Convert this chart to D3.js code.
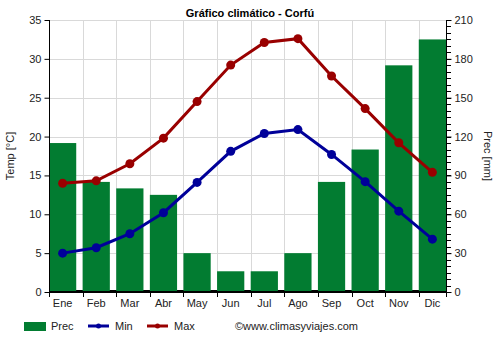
<!DOCTYPE html>
<html>
<head>
<meta charset="utf-8">
<script src="https://cdn.jsdelivr.net/npm/d3@7"></script>
<style>
  body { margin: 0; background: #fff; }
  svg { display: block; font-family: "Liberation Sans", Arial, sans-serif; }
</style>
</head>
<body>
<svg id="chart" width="500" height="350"></svg>
<script>
// Monthly climate data for Corfu
const months = ["Ene", "Feb", "Mar", "Abr", "May", "Jun", "Jul", "Ago", "Sep", "Oct", "Nov", "Dic"];
const precip = [115, 85, 80, 75, 30, 16, 16, 30, 85, 110, 175, 195];
const tempMin = [5.0, 5.7, 7.5, 10.2, 14.1, 18.1, 20.4, 20.9, 17.7, 14.2, 10.4, 6.8];
const tempMax = [14.0, 14.3, 16.5, 19.8, 24.5, 29.2, 32.1, 32.6, 27.8, 23.6, 19.2, 15.4];
const tempTicks = [0, 5, 10, 15, 20, 25, 30, 35];
const precTicks = [0, 30, 60, 90, 120, 150, 180, 210];

const svg = d3.select("#chart");
const plotL = 49, plotR = 446, plotT = 20, plotB = 292;

// first bar touches the left axis, last bar touches the right axis
const x = d3.scaleBand().domain(months).range([plotL, plotR])
  .paddingInner(0.19).paddingOuter(0);
const yT = d3.scaleLinear().domain([0, 35]).range([plotB, plotT]);
const yP = d3.scaleLinear().domain([0, 210]).range([plotB, plotT]);

const grid = "#d9d9d9";
const slotStarts = months.map(m => Math.round(x(m)) + 0.5);

// horizontal grid
svg.append("g").selectAll("line").data(tempTicks.slice(1)).join("line")
  .attr("x1", plotL).attr("x2", plotR)
  .attr("y1", d => Math.round(yT(d)) + 0.5).attr("y2", d => Math.round(yT(d)) + 0.5)
  .attr("stroke", grid).attr("stroke-width", 1);

// vertical grid at the start of each month slot
svg.append("g").selectAll("line").data(slotStarts.slice(1)).join("line")
  .attr("x1", d => d).attr("x2", d => d)
  .attr("y1", plotT).attr("y2", plotB)
  .attr("stroke", grid).attr("stroke-width", 1);

// baseline
svg.append("line").attr("x1", plotL).attr("x2", plotR)
  .attr("y1", plotB - 0.5).attr("y2", plotB - 0.5)
  .attr("stroke", "#000").attr("stroke-width", 3);

// precipitation bars
svg.append("g").selectAll("rect").data(precip).join("rect")
  .attr("x", (d, i) => x(months[i]))
  .attr("width", x.bandwidth())
  .attr("y", d => yP(d))
  .attr("height", d => yP(0) - yP(d) - 1)
  .attr("fill", "#027c31");

// left axis
const axL = svg.append("g").attr("transform", `translate(${plotL + 0.5},0)`)
  .call(d3.axisLeft(yT).tickValues(tempTicks).tickSize(5).tickPadding(3));
// right axis
const axR = svg.append("g").attr("transform", `translate(${plotR + 0.5},0)`)
  .call(d3.axisRight(yP).tickValues(precTicks).tickSize(5).tickPadding(3));
// right minor ticks
svg.append("g").selectAll("line").data(d3.range(0, 211, 5)).join("line")
  .attr("x1", plotR).attr("x2", plotR + 5)
  .attr("y1", d => Math.round(yP(d)) + 0.5).attr("y2", d => Math.round(yP(d)) + 0.5)
  .attr("stroke", "#000");
// bottom axis: ticks at slot starts and the right end, labels centred under bars
svg.append("g").selectAll("line").data(slotStarts.concat([plotR + 0.5])).join("line")
  .attr("x1", d => d).attr("x2", d => d)
  .attr("y1", plotB).attr("y2", plotB + 5)
  .attr("stroke", "#000");
svg.append("g").selectAll("text").data(months).join("text")
  .attr("x", d => x(d) + x.bandwidth() / 2)
  .attr("y", 307)
  .attr("text-anchor", "middle")
  .attr("font-size", 11)
  .attr("fill", "#222")
  .text(d => d);

[axL, axR].forEach(a => {
  a.select(".domain").remove();
  a.selectAll("text").attr("font-size", 11).attr("fill", "#222").attr("font-family", "Liberation Sans, Arial, sans-serif");
  a.selectAll(".tick line").attr("stroke", "#000");
});
svg.append("line").attr("x1", plotL + 0.5).attr("x2", plotL + 0.5).attr("y1", plotT).attr("y2", plotB).attr("stroke", "#000");
svg.append("line").attr("x1", plotR + 0.5).attr("x2", plotR + 0.5).attr("y1", plotT).attr("y2", plotB).attr("stroke", "#000");

// temperature lines
const cx = i => x(months[i]) + x.bandwidth() / 2;
function series(vals, color) {
  const line = d3.line().x((d, i) => cx(i)).y(d => yT(d));
  svg.append("path").datum(vals).attr("d", line)
    .attr("fill", "none").attr("stroke", color).attr("stroke-width", 3);
  svg.append("g").selectAll("circle").data(vals).join("circle")
    .attr("cx", (d, i) => cx(i)).attr("cy", d => yT(d)).attr("r", 4.5)
    .attr("fill", color);
}
series(tempMin, "#000099");
series(tempMax, "#990000");

// title
svg.append("text").attr("x", 250).attr("y", 17).attr("text-anchor", "middle")
  .attr("font-size", 11).attr("font-weight", "bold").attr("fill", "#000")
  .text("Gráfico climático - Corfú");

// axis titles
svg.append("text").attr("transform", "translate(14,156) rotate(-90)")
  .attr("text-anchor", "middle").attr("font-size", 11).attr("fill", "#222")
  .text("Temp [°C]");
svg.append("text").attr("transform", "translate(484,156) rotate(90)")
  .attr("text-anchor", "middle").attr("font-size", 11).attr("fill", "#222")
  .text("Prec [mm]");

// legend
const lg = svg.append("g").attr("font-size", 11).attr("fill", "#222");
lg.append("rect").attr("x", 24).attr("y", 322).attr("width", 22).attr("height", 9).attr("fill", "#027c31");
lg.append("text").attr("x", 51).attr("y", 330).text("Prec");
[[88, 115, "#000099", "Min"], [147, 174, "#990000", "Max"]].forEach(([lx, tx, c, t]) => {
  lg.append("line").attr("x1", lx).attr("x2", lx + 21).attr("y1", 326).attr("y2", 326)
    .attr("stroke", c).attr("stroke-width", 3);
  lg.append("circle").attr("cx", lx + 10.5).attr("cy", 326).attr("r", 2.5).attr("fill", c);
  lg.append("text").attr("x", tx).attr("y", 330).text(t);
});
lg.append("text").attr("x", 235).attr("y", 330).text("©www.climasyviajes.com");
</script>
</body>
</html>
